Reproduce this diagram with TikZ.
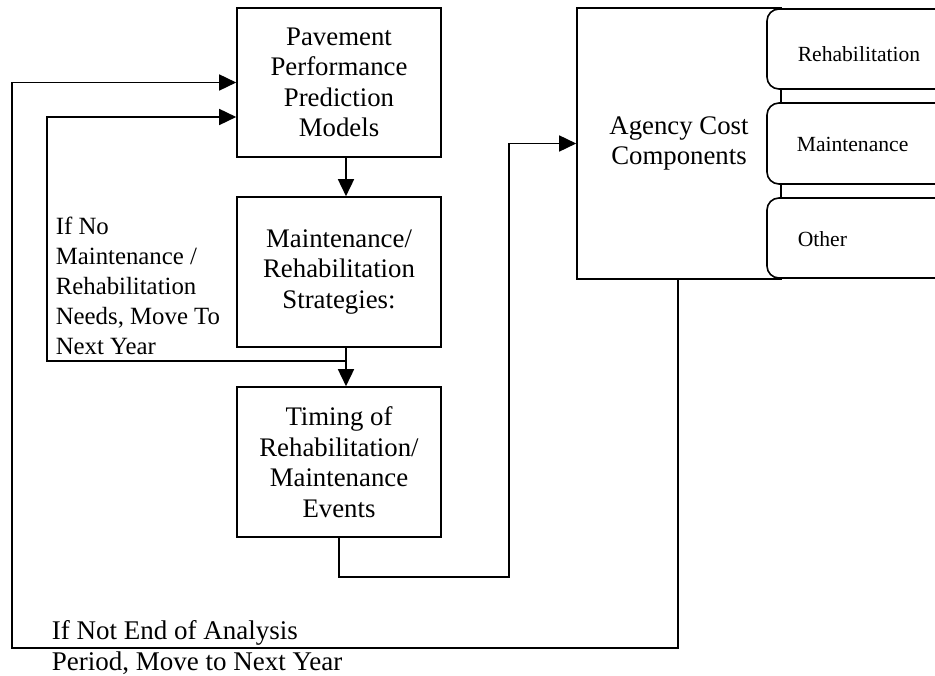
\documentclass[tikz,border=0pt]{standalone}
\usepackage{fontspec}
\setmainfont{Liberation Serif}
\usetikzlibrary{arrows.meta}
\begin{document}
\begin{tikzpicture}[x=1pt,y=-1pt,
  line width=1.6pt,
  arr/.style={-{Triangle[length=17pt,width=16pt]}},
  mainbox/.style={draw, rectangle, inner sep=0pt, align=center, minimum width=204pt, minimum height=150pt, font=\fontsize{26.8}{30.5}\selectfont},
  subbox/.style={draw, rounded corners=12pt, fill=white, minimum width=200pt, inner sep=0pt},
  sublabel/.style={anchor=base west, inner sep=0pt, font=\fontsize{21.6}{26}\selectfont},
  note/.style={anchor=north west, inner sep=0pt, align=left}
]
\useasboundingbox (0,0) rectangle (935,676);
\clip (0,0) rectangle (935,676);
\fill[white] (0,0) rectangle (935,676);

% main boxes
\node[mainbox, minimum height=149pt] (b1) at (339,82.5) {Pavement\\Performance\\Prediction\\Models};
\node[mainbox] (b2) at (339,272) {Maintenance/\\Rehabilitation\\Strategies:};
\node[mainbox] (b3) at (339,462) {Timing of\\Rehabilitation/\\Maintenance\\Events};

% agency box
\node[mainbox, minimum height=271pt] (ag) at (679,143.5) {Agency Cost\\Components};

% sub boxes
\node[subbox, minimum height=80pt] (s1) at (867,49) {};
\node[subbox, minimum height=81pt] (s2) at (867,143.5) {};
\node[subbox, minimum height=80pt] (s3) at (867,238) {};
\node[sublabel] (t1) at (797,62) {Rehabilitation};
\node[sublabel] (t2) at (796,152) {Maintenance};
\node[sublabel] (t3) at (797,247) {Other};

% notes
\node[note, font=\fontsize{24.8}{30}\selectfont] (n1) at (55,216) {If No\\Maintenance /\\Rehabilitation\\Needs, Move To\\Next Year};
\node[note, font=\fontsize{27}{31}\selectfont] (n2) at (51,620) {If Not End of Analysis\\Period, Move to Next Year};

% connectors
\coordinate (j1) at (346,361);
\coordinate (c1) at (509,577);
\coordinate (c2) at (12,648);
\coordinate (c3) at (47,361);

\draw[arr] ([xshift=7pt]b1.south) -- ([xshift=7pt]b2.north);
\draw ([xshift=7pt]b2.south) -- (j1);
\draw[arr] (j1) -- ([xshift=7pt]b3.north);
\draw[arr] (j1) -- (c3) |- ([yshift=-34.5pt]b1.west);
\draw[arr] (b3.south) |- (c1) |- (ag.west);
\draw[arr] ([xshift=-1pt]ag.south) |- (c2) |- (b1.west);
\end{tikzpicture}
\end{document}
